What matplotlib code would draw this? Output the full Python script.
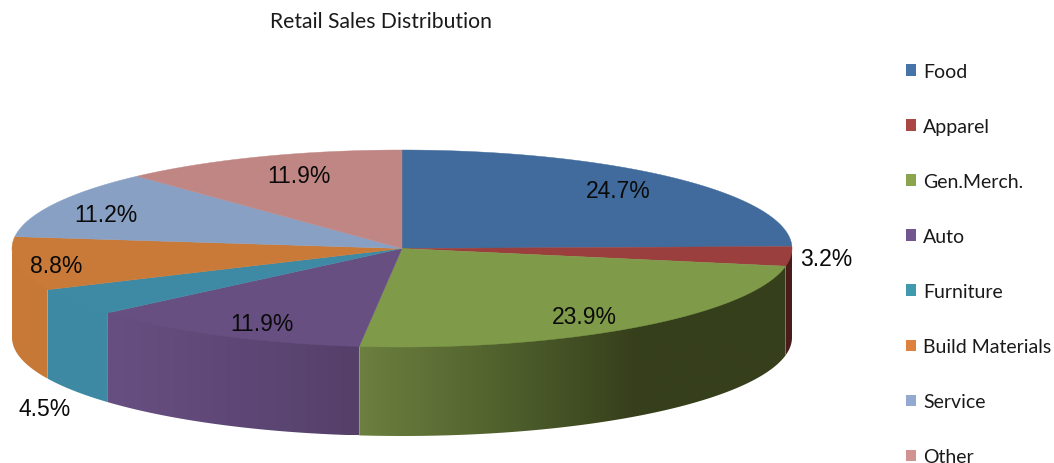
#!/usr/bin/env python3
import numpy as np
import matplotlib
matplotlib.use('Agg')
import matplotlib.pyplot as plt
from matplotlib.colors import LinearSegmentedColormap
from matplotlib.patches import Patch, Polygon

# data
categories = ['Food', 'Apparel', 'Gen.Merch.', 'Auto', 'Furniture',
              'Build Materials', 'Service', 'Other']
shares = [24.7, 3.2, 23.9, 11.9, 4.5, 8.8, 11.2, 11.9]
title = 'Retail Sales Distribution'

# colours
legend_colors = ['#4673a8', '#aa4644', '#8ba54e', '#72578f',
                 '#4199ae', '#dd813c', '#93a9cf', '#d09392']
top_colors = ['#416b9c', '#9a3f3d', '#7f9b4a', '#684f82',
              '#3e89a3', '#c97a38', '#88a0c3', '#c08684']
wall_stops = [
    ['#2f4a6c', '#2f4a6c'],
    ['#4a1c1c', '#4a1c1c'],
    [(0.0, '#6c8040'), (0.35, '#4f5f2c'), (0.65, '#363f1b'), (1.0, '#363f1b')],
    ['#684f82', '#55406a'],
    ['#3e89a3', '#3e89a3'],
    ['#c97a38', '#c67836'],
    ['#88a0c3', '#88a0c3'],
    ['#c08684', '#c08684'],
]

# label centres in pixels, same order as shares
label_pos = [(618, 192), (826, 260), (584, 318), (262, 325),
             (45, 410), (56, 267), (106, 216), (299, 177)]

# pie geometry in pixels
cx, cy = 402, 249.5
rx, ry = 390, 98.5
depth = 89


def ellipse(theta_deg):
    # angles run clockwise from 12 o'clock
    t = np.radians(theta_deg)
    return cx + rx * np.sin(t), cy - ry * np.cos(t)


fig = plt.figure(figsize=(10.54, 4.64), dpi=100)
ax = fig.add_axes([0, 0, 1, 1])

edges = np.concatenate([[0], np.cumsum(shares)]) / sum(shares) * 360

# side walls, only the front half of the rim shows
for i in range(len(shares)):
    a0, a1 = max(edges[i], 90), min(edges[i + 1], 270)
    if a1 <= a0:
        continue
    x, y = ellipse(np.linspace(a0, a1, 120))
    # wall starts a little above the rim so no seam shows under the top face
    outline = np.column_stack([np.r_[x, x[::-1]],
                               np.r_[y - 2, y[::-1] + depth]])
    # shading follows screen x, left to right
    cmap = LinearSegmentedColormap.from_list('wall', wall_stops[i])
    ramp = np.linspace(0, 1, 256).reshape(1, -1)
    im = ax.imshow(ramp, cmap=cmap, aspect='auto', interpolation='bilinear',
                   extent=[x.min(), x.max(), y.max() + depth, y.min() - 2])
    im.set_clip_path(Polygon(outline, closed=True, transform=ax.transData))

ax.set_xlim(0, 1054)
ax.set_ylim(464, 0)
ax.axis('off')

# top face
for i in range(len(shares)):
    x, y = ellipse(np.linspace(edges[i], edges[i + 1], 200))
    pts = np.column_stack([np.r_[cx, x], np.r_[cy, y]])
    ax.add_patch(Polygon(pts, closed=True, facecolor=top_colors[i],
                         edgecolor=top_colors[i], linewidth=0.3))

for v, (lx, ly) in zip(shares, label_pos):
    ax.text(lx, ly, f'{v:.1f}%', ha='center', va='center', color='#0a0a0a',
            fontsize=16.5, family='Liberation Sans')

ax.text(381, 22, title, ha='center', va='center', fontsize=15.2,
        family='Lato', color='#1a1a1a')

handles = [Patch(facecolor=c, edgecolor='none') for c in legend_colors]
ax.legend(handles, categories, loc='upper left',
          bbox_to_anchor=(906 / 1054, 1 - 64 / 464), frameon=False,
          prop={'family': 'Lato', 'size': 14},
          handlelength=0.52, handleheight=0.52, handletextpad=0.36,
          labelspacing=1.955, borderpad=0, borderaxespad=0,
          labelcolor='#1a1a1a')

fig.savefig('out.png', dpi=100, facecolor='white')
plt.close(fig)
